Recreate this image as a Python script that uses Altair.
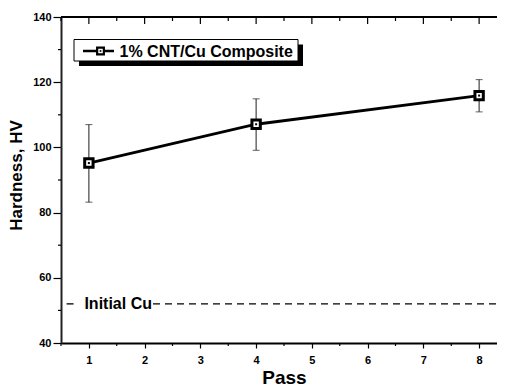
import altair as alt
import pandas as pd

# ---- data ----
passes = [1, 4, 8]
hardness = [95.2, 107.1, 115.9]
err_low = [83.2, 99.1, 110.9]
err_high = [107.0, 114.9, 120.8]
series_label = "1% CNT/Cu Composite"

initial_cu = 52.0
ref_label = "Initial Cu"
ref_text_x = 0.92
ref_seg_start = [0.6, 2.15]
ref_seg_end = [0.73, 8.5]

x_major = [1, 2, 3, 4, 5, 6, 7, 8]
x_minor = [0.5, 1.5, 2.5, 3.5, 4.5, 5.5, 6.5, 7.5, 8.5]
y_major = [40, 60, 80, 100, 120, 140]
y_minor = [50, 70, 90, 110, 130]

FONT = "Liberation Sans"
W, H = 446, 326

df = pd.DataFrame({"pass": passes, "hv": hardness, "lo": err_low, "hi": err_high})
xs = alt.Scale(domain=[0.5, 8.5], nice=False, zero=False)
ys = alt.Scale(domain=[40, 140], nice=False, zero=False)

x_axis = alt.Axis(values=x_major, format="d", title="Pass", labelFont=FONT,
                  labelFontSize=11, labelFontWeight="bold", labelColor="black",
                  tickSize=5, tickWidth=1.2, tickColor="black", domainColor="black",
                  domainWidth=2, labelPadding=6, grid=False, titleFont=FONT,
                  titleFontSize=19, titleFontWeight="bold", titleColor="black",
                  titleX=W / 2, titleY=40, titleBaseline="alphabetic")
y_axis = alt.Axis(values=y_major, title="Hardness, HV", labelFont=FONT,
                  labelFontSize=11, labelFontWeight="bold", labelColor="black",
                  tickSize=8, tickWidth=1.2, tickColor="black", domainColor="#222",
                  domainWidth=2, labelPadding=2, grid=False, titleFont=FONT,
                  titleFontSize=17, titleFontWeight="bold", titleColor="black",
                  titleX=-40, titleY=158, titleBaseline="alphabetic", titleAngle=270)

base = alt.Chart(df)
line = base.mark_line(color="black", strokeWidth=2.8).encode(
    x=alt.X("pass:Q", scale=xs, axis=x_axis),
    y=alt.Y("hv:Q", scale=ys, axis=y_axis),
)
err = base.mark_rule(color="#333", strokeWidth=1.1).encode(
    x="pass:Q", y="lo:Q", y2="hi:Q")
cap_hi = base.mark_tick(orient="horizontal", size=7, thickness=1.1, color="#333").encode(
    x="pass:Q", y="hi:Q")
cap_lo = base.mark_tick(orient="horizontal", size=7, thickness=1.1, color="#333").encode(
    x="pass:Q", y="lo:Q")
pts = base.mark_point(shape="square", filled=True, fill="white", stroke="black",
                      strokeWidth=3, size=70, opacity=1).encode(x="pass:Q", y="hv:Q")
dots = base.mark_point(shape="square", filled=True, color="black", size=4,
                       opacity=1).encode(x="pass:Q", y="hv:Q")

# reference line (Initial Cu)
ref_df = pd.DataFrame({"x0": ref_seg_start, "x1": ref_seg_end,
                       "y": [initial_cu] * len(ref_seg_start)})
ref_line = alt.Chart(ref_df).mark_rule(color="black", strokeWidth=1.3,
                                       strokeDash=[7, 5]).encode(
    x="x0:Q", x2="x1:Q", y="y:Q")
ref_txt = alt.Chart(pd.DataFrame({"x": [ref_text_x], "y": [initial_cu],
                                  "t": [ref_label]})).mark_text(
    align="left", baseline="alphabetic", dy=5.5, font=FONT, fontSize=16,
    fontWeight="bold", color="black").encode(x="x:Q", y="y:Q", text="t:N")

# frame: top border and inner/minor ticks
xmaj_df = pd.DataFrame({"x": x_major})
xmin_df = pd.DataFrame({"x": x_minor})
ymin_df = pd.DataFrame({"y": y_minor})
tk = dict(color="black", strokeWidth=1.2)
top_border = alt.Chart(pd.DataFrame({"k": [0]})).mark_rule(color="black", strokeWidth=2).encode(
    x=alt.value(0), x2=alt.value(W), y=alt.value(0))
top_maj = alt.Chart(xmaj_df).mark_rule(**tk).encode(
    x="x:Q", y=alt.value(0), y2=alt.value(7))
top_min = alt.Chart(xmin_df).mark_rule(**tk).encode(
    x="x:Q", y=alt.value(0), y2=alt.value(4))
bot_min = alt.Chart(xmin_df).mark_rule(**tk).encode(
    x="x:Q", y=alt.value(H), y2=alt.value(H + 3))
left_min = alt.Chart(ymin_df).mark_rule(**tk).encode(
    y="y:Q", x=alt.value(-3), x2=alt.value(0))

# legend box
leg = alt.Chart(pd.DataFrame({"label": [series_label]}))
shadow = leg.mark_rect(color="black").encode(
    x=alt.value(18), x2=alt.value(242), y=alt.value(27.5), y2=alt.value(49))
box = leg.mark_rect(fill="white", stroke="black", strokeWidth=1).encode(
    x=alt.value(13), x2=alt.value(237), y=alt.value(22.5), y2=alt.value(44))
leg_line = leg.mark_rule(color="black", strokeWidth=2.5).encode(
    x=alt.value(22), x2=alt.value(53), y=alt.value(34))
leg_sq = leg.mark_point(shape="square", filled=True, fill="white", stroke="black",
                        strokeWidth=2.2, size=45, opacity=1).encode(
    x=alt.value(39.5), y=alt.value(34))
leg_dot = leg.mark_point(shape="square", filled=True, color="black", size=3,
                         opacity=1).encode(x=alt.value(39.5), y=alt.value(34))
leg_txt = leg.mark_text(align="left", baseline="alphabetic", font=FONT, fontSize=16,
                        fontWeight="bold", color="black").encode(
    x=alt.value(58.5), y=alt.value(39.7), text="label:N")

chart = alt.layer(
    ref_line, ref_txt, err, cap_hi, cap_lo, line, pts, dots,
    top_border, top_maj, top_min, bot_min, left_min,
    shadow, box, leg_line, leg_sq, leg_dot, leg_txt,
).properties(
    width=W, height=H,
    autosize=alt.AutoSizeParams(type="none"),
    padding={"left": 53, "top": 9, "right": -10, "bottom": 44},
    background="white",
).configure_view(strokeWidth=0)

chart.save("out.html", embed_options={"renderer": "svg", "actions": False})
